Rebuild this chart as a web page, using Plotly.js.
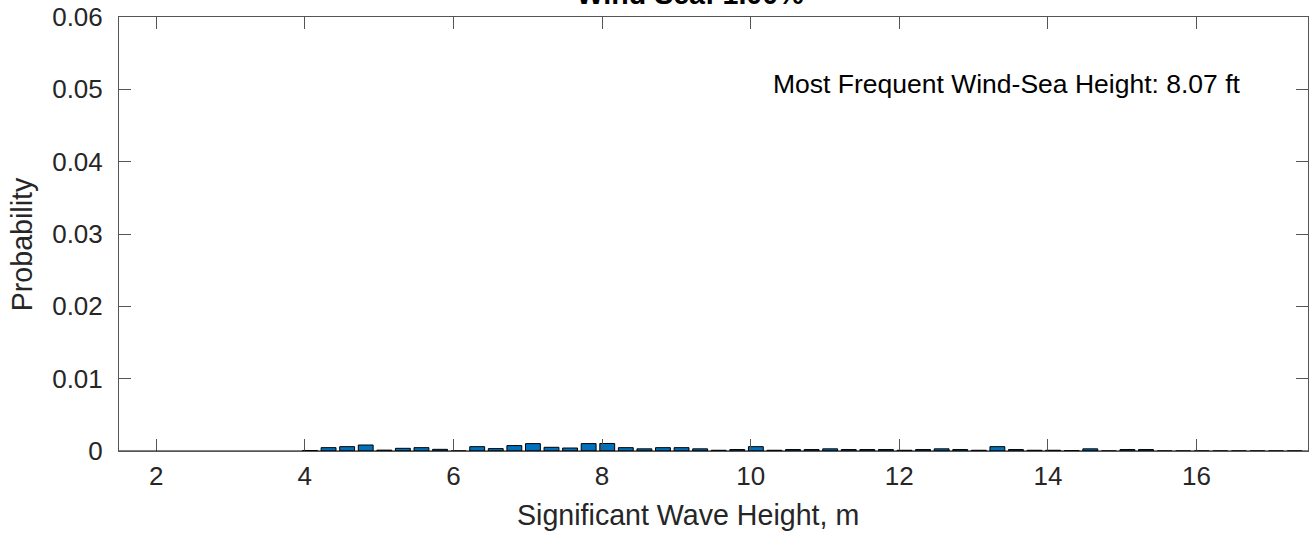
<!DOCTYPE html>
<html>
<head>
<meta charset="utf-8">
<script src="https://cdn.plot.ly/plotly-3.0.1.min.js"></script>
<style>html,body{margin:0;padding:0;background:#fff;}#chart{width:1311px;height:537px;}</style>
</head>
<body>
<div id="chart"></div>
<script>
// Bin centres (m) and probabilities
const binCenters = [4.07, 4.32, 4.57, 4.82, 5.07, 5.32, 5.57, 5.82, 6.07, 6.32, 6.57, 6.82,
  7.07, 7.32, 7.57, 7.82, 8.07, 8.32, 8.57, 8.82, 9.07, 9.32, 9.57, 9.82,
  10.07, 10.32, 10.57, 10.82, 11.07, 11.32, 11.57, 11.82, 12.07, 12.32, 12.57, 12.82,
  13.07, 13.32, 13.57, 13.82, 14.07, 14.32, 14.57, 14.82, 15.07, 15.32, 15.57, 15.82,
  16.07, 16.32, 16.57, 16.82, 17.07, 17.32];
const probability = [0.00007, 0.00046, 0.00060, 0.00083, 0.00012, 0.00037, 0.00046, 0.00023, 0.0, 0.00060, 0.00033, 0.00075,
  0.00102, 0.00051, 0.00041, 0.00102, 0.00104, 0.00046, 0.00030, 0.00046, 0.00046, 0.00030, 0.00010, 0.00020,
  0.00060, 0.00010, 0.00020, 0.00020, 0.00030, 0.00020, 0.00020, 0.00020, 0.00010, 0.00020, 0.00030, 0.00020,
  0.00010, 0.00060, 0.00020, 0.00010, 0.00010, 0.00005, 0.00030, 0.0, 0.00020, 0.00020, 0.0, 0.0,
  0.0, 0.0, 0.0, 0.0, 0.0, 0.0];
const xTickVals = [2, 4, 6, 8, 10, 12, 14, 16];
const yTickVals = [0, 0.01, 0.02, 0.03, 0.04, 0.05, 0.06];
const yTickText = ["0", "0.01", "0.02", "0.03", "0.04", "0.05", "0.06"];
const titleText = "Wind Sea: 1.00%";
const xLabelText = "Significant Wave Height, m";
const yLabelText = "Probability";
const noteText = "Most Frequent Wind-Sea Height: 8.07 ft";

const FONT = "Liberation Sans, Arial, Helvetica, sans-serif";
const AX = "#555555";
const TXT = "#262626";

const trace = {
  type: "bar",
  x: binCenters,
  y: probability,
  width: 0.2,
  marker: {color: "#0072BD", line: {color: "#000000", width: 1}},
  hoverinfo: "x+y"
};

const layout = {
  width: 1311, height: 537,
  margin: {l: 119, r: 3, t: 17, b: 86, pad: 0},
  paper_bgcolor: "#ffffff", plot_bgcolor: "#ffffff",
  showlegend: false,
  font: {family: FONT, color: TXT},
  title: {text: "<b>" + titleText + "</b>", font: {family: FONT, size: 28.6, color: "#000"},
    xref: "paper", x: 0.4803, xanchor: "center", yref: "container", y: 0.9926, yanchor: "bottom"},
  xaxis: {
    range: [1.5, 17.5], tickvals: xTickVals, ticks: "inside", ticklen: 12, tickwidth: 1, tickcolor: AX,
    showline: true, linecolor: AX, linewidth: 1, mirror: "ticks", showgrid: false, zeroline: false,
    tickfont: {family: FONT, size: 26, color: TXT}, ticklabelstandoff: 2
  },
  yaxis: {
    range: [0, 0.06], tickvals: yTickVals, ticktext: yTickText, ticks: "inside", ticklen: 12, tickwidth: 1, tickcolor: AX,
    showline: true, linecolor: AX, linewidth: 1, mirror: "ticks", showgrid: false, zeroline: false,
    tickfont: {family: FONT, size: 26, color: TXT}, ticklabelstandoff: 10
  },
  shapes: [{type: "line", xref: "paper", x0: 0, x1: 1, yref: "y", y0: 0, y1: 0, line: {color: "#000", width: 1}}],
  annotations: [
    {text: noteText, xref: "x", yref: "y", x: 10.27, y: 0.0507, xanchor: "left", yanchor: "middle",
      showarrow: false, font: {family: FONT, size: 26.5, color: "#000"}},
    {text: xLabelText, xref: "paper", yref: "paper", x: 0.4786, y: -0.148, xanchor: "center", yanchor: "middle",
      showarrow: false, font: {family: FONT, size: 28.6, color: TXT}},
    {text: yLabelText, xref: "paper", yref: "paper", x: -0.0816, y: 0.4764, xanchor: "center", yanchor: "middle",
      textangle: -90, showarrow: false, font: {family: FONT, size: 28.6, color: TXT}}
  ]
};

Plotly.newPlot("chart", [trace], layout, {displayModeBar: false, staticPlot: true});
</script>
</body>
</html>
